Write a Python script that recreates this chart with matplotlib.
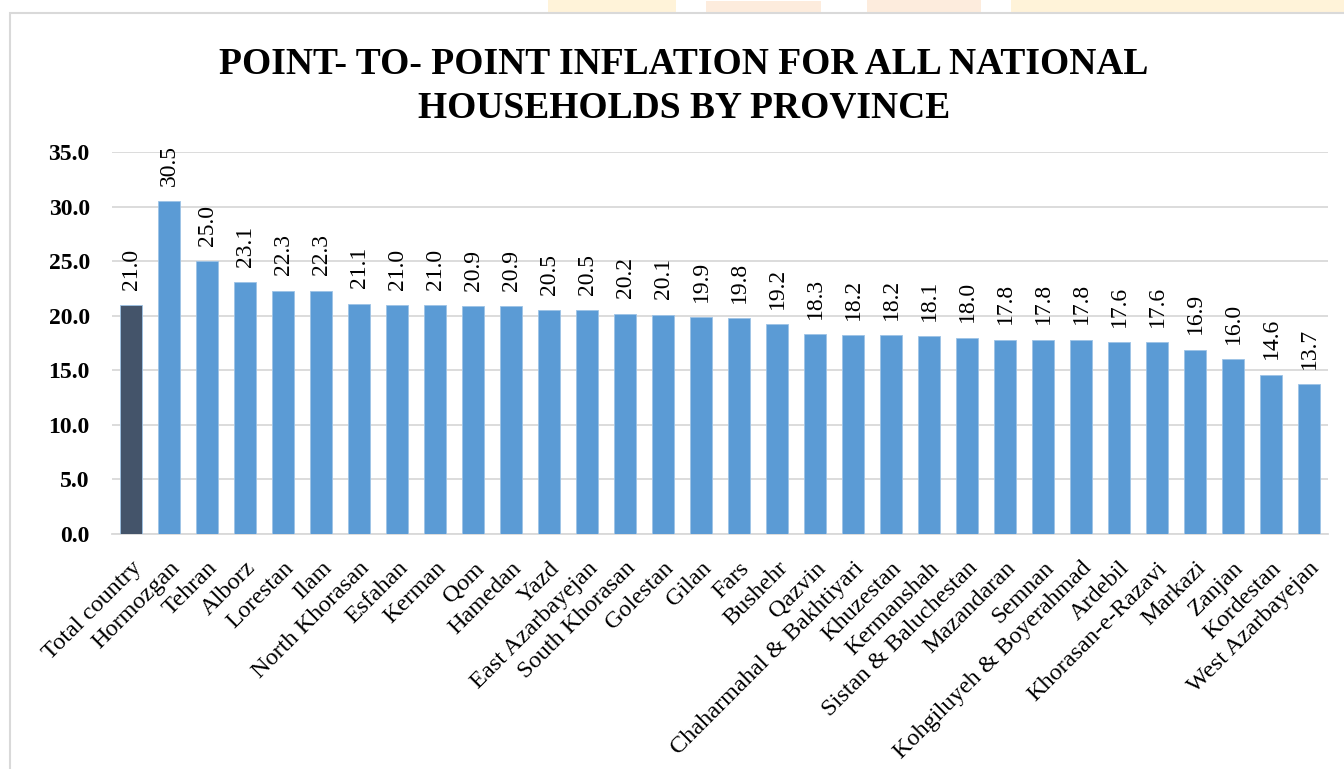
import matplotlib
matplotlib.use("Agg")
import matplotlib.pyplot as plt
from matplotlib.patches import Rectangle

provinces = [
    "Total country", "Hormozgan", "Tehran", "Alborz", "Lorestan", "Ilam",
    "North Khorasan", "Esfahan", "Kerman", "Qom", "Hamedan", "Yazd",
    "East Azarbayejan", "South Khorasan", "Golestan", "Gilan", "Fars",
    "Bushehr", "Qazvin", "Chaharmahal & Bakhtiyari", "Khuzestan",
    "Kermanshah", "Sistan & Baluchestan", "Mazandaran", "Semnan",
    "Kohgiluyeh & Boyerahmad", "Ardebil", "Khorasan-e-Razavi", "Markazi",
    "Zanjan", "Kordestan", "West Azarbayejan",
]
inflation = [
    21.0, 30.5, 25.0, 23.1, 22.3, 22.3, 21.1, 21.0, 21.0, 20.9, 20.9, 20.5,
    20.5, 20.2, 20.1, 19.9, 19.8, 19.2, 18.3, 18.2, 18.2, 18.1, 18.0, 17.8,
    17.8, 17.8, 17.6, 17.6, 16.9, 16.0, 14.6, 13.7,
]
yticks = [0, 5, 10, 15, 20, 25, 30, 35]

plt.rcParams['font.family'] = ['Liberation Serif', 'DejaVu Serif']

W, H = 1344, 769
fig = plt.figure(figsize=(W / 100, H / 100), dpi=100)
fig.patch.set_facecolor('white')

# page decorations above the chart frame
for x0, x1, y0, c in [(548, 676, 0, '#fff3d9'), (706, 821, 1, '#fdecdd'),
                      (867, 981, 0, '#fdecdd'), (1011, 1344, 0, '#fff3d9')]:
    fig.add_artist(Rectangle((x0 / W, 1 - 13 / H), (x1 - x0) / W, (13 - y0) / H,
                             transform=fig.transFigure, facecolor=c,
                             edgecolor='none', zorder=0))
# chart frame
fig.add_artist(Rectangle((10 / W, -0.01), 1.0, 1 - 13 / H + 0.01,
                         transform=fig.transFigure, facecolor='white',
                         edgecolor='#d9d9d9', linewidth=1.5, zorder=0))

ax = fig.add_axes([112 / W, 1 - 534 / H, (1328 - 112) / W, (534 - 152) / H])
ax.set_facecolor('none')

colors = ['#44546a'] + ['#5b9bd5'] * (len(provinces) - 1)
x = range(len(provinces))
bars = ax.bar(x, inflation, width=0.57, color=colors, edgecolor='#9dc3e6',
              linewidth=0.6, zorder=3)

for b, v in zip(bars, inflation):
    ax.annotate(f"{v:.1f}", (b.get_x() + b.get_width() / 2, v),
                xytext=(0, 11), textcoords='offset points', rotation=90,
                ha='center', va='bottom', fontsize=17)

ax.set_xlim(-0.5, len(provinces) - 0.5)
ax.set_ylim(0, 35)
ax.set_yticks(yticks)
ax.set_yticklabels([f"{t:.1f}" for t in yticks], fontsize=17, fontweight='bold')
ax.set_xticks(list(x))
ax.set_xticklabels(provinces, rotation=45, ha='right', va='top',
                   rotation_mode='anchor', fontsize=17.5)
ax.tick_params(axis='both', length=0)
ax.tick_params(axis='y', pad=16)
ax.tick_params(axis='x', pad=17)
ax.grid(axis='y', color='#d9d9d9', linewidth=1.3, zorder=0)
for s in ['top', 'right', 'left']:
    ax.spines[s].set_visible(False)
ax.spines['bottom'].set_color('#d9d9d9')
ax.spines['bottom'].set_linewidth(1.3)

fig.text(684 / W, 1 - 64 / H, "POINT- TO- POINT INFLATION FOR ALL NATIONAL",
         ha='center', va='center', fontsize=27, fontweight='bold')
fig.text(684 / W, 1 - 108 / H, "HOUSEHOLDS BY PROVINCE",
         ha='center', va='center', fontsize=27, fontweight='bold')

fig.savefig('out.png', dpi=100)
